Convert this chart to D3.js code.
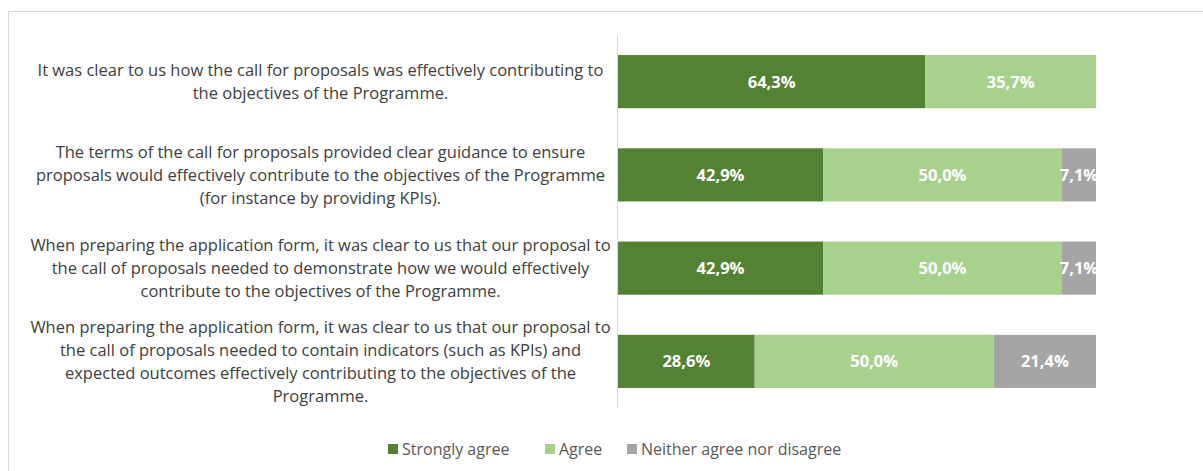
<!DOCTYPE html>
<html>
<head>
<meta charset="utf-8">
<script src="https://cdn.jsdelivr.net/npm/d3@7/dist/d3.min.js"></script>
<style>
  html, body { margin: 0; padding: 0; background: #fff; }
  svg { display: block; }
</style>
</head>
<body>
<svg id="chart" width="1203" height="471"></svg>
<script>
// ---- data ----
const categories = [
  ["It was clear to us how the call for proposals was effectively contributing to",
   "the objectives of the Programme."],
  ["The terms of the call for proposals provided clear guidance to ensure",
   "proposals would effectively contribute to the objectives of the Programme",
   "(for instance by providing KPIs)."],
  ["When preparing the application form, it was clear to us that our proposal to",
   "the call of proposals needed to demonstrate how we would effectively",
   "contribute to the objectives of the Programme."],
  ["When preparing the application form, it was clear to us that our proposal to",
   "the call of proposals needed to contain indicators (such as KPIs) and",
   "expected outcomes effectively contributing to the objectives of the",
   "Programme."]
];
const seriesNames = ["Strongly agree", "Agree", "Neither agree nor disagree"];
const stronglyAgree = [64.3, 42.9, 42.9, 28.6];
const agree = [35.7, 50.0, 50.0, 50.0];
const neither = [0, 7.1, 7.1, 21.4];
const colors = ["#548235", "#A9D18E", "#A5A5A5"];

// ---- build table ----
const rows = categories.map((c, i) => ({
  id: i, lines: c,
  "Strongly agree": stronglyAgree[i],
  "Agree": agree[i],
  "Neither agree nor disagree": neither[i]
}));
const stack = d3.stack().keys(seriesNames)(rows);

const svg = d3.select("#chart");
const font = "'Open Sans', sans-serif";

// chart border
svg.append("path")
  .attr("d", "M8.5,471 L8.5,11.5 L1203,11.5")
  .attr("fill", "none").attr("stroke", "#d9d9d9").attr("stroke-width", 1);

const x = d3.scaleLinear().domain([0, 100]).range([618, 1096]);
const y = d3.scaleBand().domain(rows.map(r => r.id)).range([35, 408]).paddingInner(0.43).paddingOuter(0.215);

const loc = d3.formatLocale({decimal: ",", thousands: ".", grouping: [3], currency: ["", "€"]});
const fmt = loc.format(".1f");

// bars
const g = svg.append("g");
stack.forEach((s, si) => {
  g.selectAll(null).data(s.filter(d => d[1] - d[0] > 0)).join("rect")
    .attr("x", d => x(d[0]))
    .attr("width", d => x(d[1]) - x(d[0]))
    .attr("y", d => y(d.data.id))
    .attr("height", y.bandwidth())
    .attr("fill", colors[si]);
  g.selectAll(null).data(s.filter(d => d[1] - d[0] > 0)).join("text")
    .attr("x", d => (x(d[0]) + x(d[1])) / 2)
    .attr("y", d => y(d.data.id) + y.bandwidth() / 2)
    .attr("dy", "0.36em")
    .attr("text-anchor", "middle")
    .attr("fill", "#fff")
    .attr("font-family", font)
    .attr("font-weight", "bold")
    .attr("font-size", "16.5px")
    .text(d => fmt(d[1] - d[0]) + "%");
});

// axis line
svg.append("line")
  .attr("x1", 617.5).attr("x2", 617.5).attr("y1", 35).attr("y2", 408)
  .attr("stroke", "#d9d9d9").attr("stroke-width", 1);

// category labels
const lh = 23;
rows.forEach(r => {
  const cy = y(r.id) + y.bandwidth() / 2;
  const n = r.lines.length;
  const t = svg.append("text")
    .attr("text-anchor", "middle")
    .attr("fill", "#404040")
    .attr("font-family", font)
    .attr("font-size", "16.5px");
  r.lines.forEach((ln, i) => {
    t.append("tspan")
      .attr("x", 320.5)
      .attr("y", cy + (i - (n - 1) / 2) * lh)
      .attr("dy", "0.35em")
      .text(ln);
  });
});

// legend
const legendX = [388, 545, 627];
const lg = svg.append("g");
seriesNames.forEach((name, i) => {
  lg.append("rect").attr("x", legendX[i]).attr("y", 444).attr("width", 10).attr("height", 10).attr("fill", colors[i]);
  lg.append("text")
    .attr("x", legendX[i] + 14).attr("y", 449).attr("dy", "0.35em")
    .attr("fill", "#595959")
    .attr("font-family", font)
    .attr("font-size", "16px")
    .text(name);
});
</script>
</body>
</html>
